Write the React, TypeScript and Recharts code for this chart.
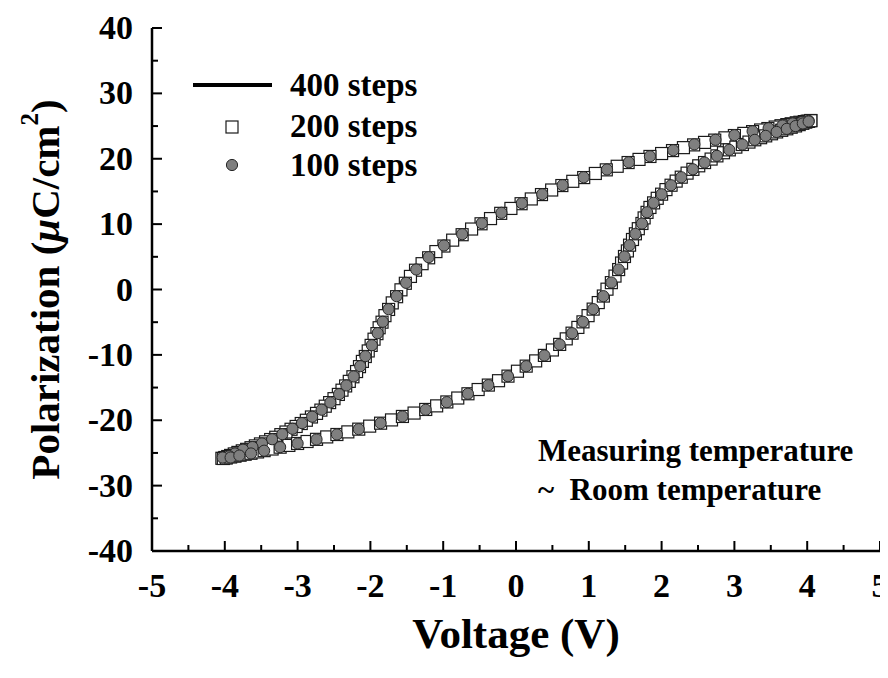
import React from 'react';
import { ComposedChart, Scatter, XAxis, YAxis, Legend, Label } from 'recharts';

const FONT = '"Liberation Serif", "Times New Roman", Times, serif';

// Tick positions
const xTicks = [-5, -4.5, -4, -3.5, -3, -2.5, -2, -1.5, -1, -0.5, 0, 0.5, 1, 1.5, 2, 2.5, 3, 3.5, 4, 4.5, 5];
const yTicks = [-40, -35, -30, -25, -20, -15, -10, -5, 0, 5, 10, 15, 20, 25, 30, 35, 40];
const xLabelTicks = [-5, -4, -3, -2, -1, 0, 1, 2, 3, 4, 5];
const yLabelTicks = [-40, -30, -20, -10, 0, 10, 20, 30, 40];

const seriesNames = ['400 steps', '200 steps', '100 steps'];
const xTitle = 'Voltage (V)';
const noteLines = ['Measuring temperature', '~  Room temperature'];

// 400 steps: continuous loop (voltage V, polarization µC/cm²)
const steps400: [number, number][] = [
  [4.06, 25.9], [3.8, 25.4], [3.5, 24.72], [3.0, 23.58], [2.5, 22.28], [2.0, 20.8], [1.5, 19.3], [1.0, 17.45],
  [0.5, 15.3], [0.0, 12.8], [-0.5, 9.95], [-1.0, 6.6], [-1.3, 3.8], [-1.5, 1.15], [-1.65, -1.3], [-1.8, -4.1],
  [-1.95, -7.6], [-2.1, -10.8], [-2.3, -14.4], [-2.5, -16.7], [-2.75, -19.0], [-3.0, -20.8], [-3.25, -22.3],
  [-3.5, -23.6], [-3.75, -24.65], [-3.95, -25.5], [-4.06, -25.9],
  [-3.9, -25.62], [-3.7, -25.18], [-3.5, -24.74], [-3.0, -23.55], [-2.5, -22.3], [-2.0, -20.88], [-1.5, -19.22],
  [-1.0, -17.42], [-0.5, -15.2], [0.0, -12.6], [0.5, -9.25], [0.8, -6.35], [1.0, -3.85], [1.2, -1.0], [1.35, 1.85],
  [1.5, 5.3], [1.65, 8.7], [1.8, 11.8], [2.0, 14.58], [2.25, 17.0], [2.5, 18.85], [2.75, 20.4], [3.0, 21.7],
  [3.25, 22.75], [3.5, 23.78], [3.75, 24.72], [3.95, 25.5], [4.06, 25.9],
];

// 200 steps: open squares
const steps200: [number, number][] = [
  [4.05, 25.85], [4.0, 25.75], [3.96, 25.68], [3.9, 25.58], [3.85, 25.5], [3.78, 25.35], [3.72, 25.22], [3.64, 25.05],
  [3.56, 24.85], [3.46, 24.62], [3.36, 24.4], [3.25, 24.15], [3.13, 23.88], [3.0, 23.55], [2.87, 23.2], [2.73, 22.85],
  [2.59, 22.5], [2.44, 22.12], [2.3, 21.7], [2.15, 21.25], [2.0, 20.8], [1.84, 20.35], [1.69, 19.9], [1.54, 19.42],
  [1.39, 18.85], [1.24, 18.3], [1.09, 17.75], [0.93, 17.12], [0.78, 16.55], [0.63, 15.9], [0.49, 15.22], [0.35, 14.52],
  [0.21, 13.85], [0.07, 13.12], [-0.07, 12.4], [-0.21, 11.65], [-0.35, 10.85], [-0.48, 10.05], [-0.61, 9.25], [-0.74, 8.38],
  [-0.87, 7.55], [-0.99, 6.65], [-1.1, 5.8], [-1.2, 4.85], [-1.29, 3.95], [-1.38, 2.95], [-1.45, 2.0], [-1.52, 0.95],
  [-1.58, -0.05], [-1.64, -1.1], [-1.7, -2.05], [-1.75, -3.05], [-1.8, -4.0], [-1.84, -5.0], [-1.88, -5.85], [-1.91, -6.75],
  [-1.95, -7.6], [-1.99, -8.55], [-2.03, -9.4], [-2.07, -10.25], [-2.11, -11.0], [-2.15, -11.8], [-2.19, -12.55], [-2.24, -13.35],
  [-2.29, -14.05], [-2.34, -14.75], [-2.39, -15.4], [-2.44, -16.05], [-2.5, -16.7], [-2.56, -17.3], [-2.62, -17.85], [-2.68, -18.45],
  [-2.74, -18.95], [-2.81, -19.5], [-2.88, -20.0], [-2.95, -20.5], [-3.02, -20.95], [-3.09, -21.38], [-3.16, -21.8], [-3.23, -22.2],
  [-3.3, -22.6], [-3.37, -22.95], [-3.44, -23.3], [-3.51, -23.62], [-3.58, -23.92], [-3.64, -24.2], [-3.7, -24.45], [-3.76, -24.68],
  [-3.82, -24.92], [-3.87, -25.15], [-3.92, -25.38], [-3.96, -25.55], [-4.0, -25.7], [-4.04, -25.82],
  [-4.02, -25.85], [-3.98, -25.78], [-3.92, -25.62], [-3.86, -25.5], [-3.79, -25.35], [-3.72, -25.2], [-3.64, -25.05], [-3.55, -24.85],
  [-3.46, -24.65], [-3.35, -24.4], [-3.24, -24.12], [-3.12, -23.85], [-3.0, -23.55], [-2.87, -23.25], [-2.74, -22.92], [-2.6, -22.55],
  [-2.46, -22.18], [-2.31, -21.78], [-2.16, -21.36], [-2.01, -20.9], [-1.86, -20.45], [-1.71, -19.95], [-1.56, -19.42], [-1.4, -18.9],
  [-1.24, -18.35], [-1.09, -17.8], [-0.95, -17.2], [-0.8, -16.6], [-0.66, -15.95], [-0.52, -15.3], [-0.38, -14.62], [-0.24, -13.95],
  [-0.11, -13.25], [0.02, -12.5], [0.14, -11.72], [0.27, -10.92], [0.39, -10.08], [0.5, -9.25], [0.6, -8.4], [0.69, -7.55],
  [0.77, -6.68], [0.85, -5.8], [0.92, -4.95], [0.99, -4.0], [1.06, -3.0], [1.13, -2.0], [1.2, -1.0], [1.25, 0.05],
  [1.31, 1.05], [1.36, 2.05], [1.41, 3.05], [1.45, 4.05], [1.49, 5.05], [1.53, 5.9], [1.56, 6.78], [1.6, 7.65],
  [1.64, 8.52], [1.68, 9.3], [1.73, 10.1], [1.76, 10.95], [1.8, 11.8], [1.84, 12.55], [1.89, 13.25], [1.94, 13.95],
  [2.0, 14.58], [2.06, 15.28], [2.13, 15.95], [2.2, 16.58], [2.27, 17.18], [2.35, 17.8], [2.43, 18.38], [2.51, 18.92],
  [2.59, 19.42], [2.68, 19.95], [2.76, 20.44], [2.85, 20.92], [2.93, 21.36], [3.02, 21.78], [3.11, 22.18], [3.2, 22.55],
  [3.28, 22.9], [3.36, 23.22], [3.43, 23.5], [3.51, 23.82], [3.58, 24.1], [3.65, 24.35], [3.72, 24.58], [3.78, 24.82],
  [3.84, 25.02], [3.89, 25.22], [3.94, 25.42], [3.98, 25.6], [4.02, 25.72], [4.05, 25.82],
];

// 100 steps: grey filled circles
const steps100: [number, number][] = [
  [4.02, 25.8], [3.93, 25.64], [3.8, 25.4], [3.66, 25.08], [3.47, 24.66], [3.25, 24.2], [3.0, 23.6], [2.74, 22.9],
  [2.45, 22.2], [2.16, 21.3], [1.84, 20.38], [1.55, 19.46], [1.25, 18.35], [0.93, 17.17], [0.64, 15.95], [0.36, 14.57],
  [0.08, 13.2], [-0.2, 11.73], [-0.47, 10.14], [-0.74, 8.46], [-0.99, 6.73], [-1.2, 4.94], [-1.37, 3.06], [-1.51, 1.02],
  [-1.64, -1.02], [-1.75, -3.01], [-1.83, -4.94], [-1.9, -6.68], [-1.98, -8.52], [-2.07, -10.2], [-2.14, -11.73], [-2.23, -13.3],
  [-2.33, -14.68], [-2.43, -16.0], [-2.55, -17.28], [-2.67, -18.39], [-2.8, -19.46], [-2.94, -20.44], [-3.07, -21.3], [-3.21, -22.13],
  [-3.35, -22.9], [-3.49, -23.55], [-3.62, -24.1], [-3.75, -24.5], [-3.86, -25.08], [-3.94, -25.5], [-4.03, -25.7],
  [-3.92, -25.7], [-3.8, -25.4], [-3.64, -25.08], [-3.46, -24.66], [-3.24, -24.11], [-3.0, -23.55], [-2.74, -22.94], [-2.46, -22.17],
  [-2.16, -21.36], [-1.86, -20.44], [-1.56, -19.42], [-1.24, -18.39], [-0.95, -17.23], [-0.66, -15.95], [-0.38, -14.63], [-0.11, -13.26],
  [0.14, -11.73], [0.39, -10.09], [0.6, -8.41], [0.77, -6.68], [0.92, -4.94], [1.06, -3.0], [1.2, -1.02], [1.31, 1.07],
  [1.41, 3.06], [1.49, 5.05], [1.56, 6.77], [1.64, 8.52], [1.73, 10.09], [1.8, 11.82], [1.89, 13.26], [2.0, 14.57],
  [2.13, 15.95], [2.27, 17.17], [2.43, 18.39], [2.59, 19.42], [2.76, 20.44], [2.93, 21.36], [3.11, 22.17], [3.28, 22.89],
  [3.43, 23.5], [3.58, 24.1], [3.72, 24.57], [3.84, 25.0], [3.94, 25.4], [4.02, 25.7],
];

const toRows = (pts: [number, number][]) => pts.map(([v, p]) => ({ v, p }));
const data400 = toRows(steps400);
const data200 = toRows(steps200);
const data100 = toRows(steps100);

const W = 880;
const H = 662;
const TICK_FS = 34;
const XTITLE_FS = 43;
const YTITLE_FS = 41;
const LEGEND_FS = 33;
const NOTE_FS = 31;

const txt = { fontFamily: FONT, fontWeight: 700, fill: '#000' } as const;

const BottomTick = (props: any) => {
  const { x, y, payload } = props;
  const v = payload.value;
  const major = xLabelTicks.includes(v);
  return (
    <g>
      <line x1={x} x2={x} y1={y} y2={y - (major ? 10 : 6)} stroke="#000" strokeWidth={2} />
      {major && (
        <text x={x} y={y + 46} textAnchor="middle" fontSize={TICK_FS} style={txt}>
          {String(v)}
        </text>
      )}
    </g>
  );
};

const TopTick = (props: any) => {
  const { x, y, payload } = props;
  const major = xLabelTicks.includes(payload.value);
  return <line x1={x} x2={x} y1={y} y2={y + (major ? 10 : 6)} stroke="#000" strokeWidth={2} />;
};

const LeftTick = (props: any) => {
  const { x, y, payload } = props;
  const v = payload.value;
  const major = yLabelTicks.includes(v);
  return (
    <g>
      <line x1={x} x2={x + (major ? 10 : 6)} y1={y} y2={y} stroke="#000" strokeWidth={2} />
      {major && (
        <text x={x - 19} y={y + 11} textAnchor="end" fontSize={TICK_FS} style={txt}>
          {String(v)}
        </text>
      )}
    </g>
  );
};

const RightTick = (props: any) => {
  const { x, y, payload } = props;
  const major = yLabelTicks.includes(payload.value);
  return <line x1={x} x2={x - (major ? 10 : 6)} y1={y} y2={y} stroke="#000" strokeWidth={2} />;
};

const SquareShape = (props: any) => {
  const { cx, cy } = props;
  if (cx == null || cy == null) return <g />;
  return <rect x={cx - 6} y={cy - 6} width={12} height={12} fill="#fff" stroke="#1a1a1a" strokeWidth={1.2} />;
};

const CircleShape = (props: any) => {
  const { cx, cy } = props;
  if (cx == null || cy == null) return <g />;
  return <circle cx={cx} cy={cy} r={5.6} fill="#7f7f7f" stroke="#262626" strokeWidth={1} />;
};

const NoShape = () => <g />;

const XTitle = (props: any) => {
  const vb = props.viewBox || { x: 144, y: 543, width: 728 };
  return (
    <text x={vb.x + vb.width / 2} y={vb.y + 97} textAnchor="middle" fontSize={XTITLE_FS} style={txt}>
      {xTitle}
    </text>
  );
};

const YTitle = (props: any) => {
  const vb = props.viewBox || { x: 0, y: 20, height: 523 };
  const cx = 37;
  const cy = vb.y + vb.height / 2;
  return (
    <text
      x={cx}
      y={cy}
      transform={`rotate(-90, ${cx}, ${cy})`}
      textAnchor="middle"
      dominantBaseline="central"
      fontSize={YTITLE_FS}
      style={txt}
    >
      Polarization (<tspan fontStyle="italic">μ</tspan>C/cm
      <tspan dy={-16} fontSize={25}>2</tspan>
      <tspan dy={16}>)</tspan>
    </text>
  );
};

const LegendContent = () => (
  <svg width={W} height={H} style={{ position: 'absolute', left: 0, top: 0, overflow: 'visible' }}>
    <line x1={185} x2={264} y1={77} y2={77} stroke="#000" strokeWidth={4} />
    <text x={282} y={88} fontSize={LEGEND_FS} style={txt}>{seriesNames[0]}</text>
    <rect x={218} y={113} width={12} height={12} fill="#fff" stroke="#1a1a1a" strokeWidth={1.2} />
    <text x={282} y={129} fontSize={LEGEND_FS} style={txt}>{seriesNames[1]}</text>
    <circle cx={224} cy={157} r={5.6} fill="#7f7f7f" stroke="#262626" strokeWidth={1} />
    <text x={282} y={168} fontSize={LEGEND_FS} style={txt}>{seriesNames[2]}</text>
  </svg>
);

export default function App() {
  return (
    <div style={{ position: 'relative', width: W, height: H }}>
      <ComposedChart width={W} height={H} margin={{ top: 20, right: 8, bottom: 0, left: 0 }} style={{ overflow: 'visible' }}>
        <XAxis
          xAxisId="b"
          dataKey="v"
          type="number"
          orientation="bottom"
          domain={[-5, 5]}
          ticks={xTicks}
          interval={0}
          height={119}
          tickSize={0}
          tickMargin={0}
          tickLine={false}
          tick={<BottomTick />}
          axisLine={{ stroke: '#000', strokeWidth: 2.5 }}
          allowDataOverflow
        >
          <Label content={<XTitle />} />
        </XAxis>
        <XAxis
          xAxisId="t"
          dataKey="v"
          type="number"
          orientation="top"
          domain={[-5, 5]}
          ticks={xTicks}
          interval={0}
          height={0}
          tickSize={0}
          tickMargin={0}
          tickLine={false}
          tick={<TopTick />}
          axisLine={{ stroke: '#000', strokeWidth: 2.5 }}
          allowDataOverflow
        />
        <YAxis
          yAxisId="l"
          dataKey="p"
          type="number"
          orientation="left"
          domain={[-40, 40]}
          ticks={yTicks}
          interval={0}
          width={144}
          tickSize={0}
          tickMargin={0}
          tickLine={false}
          tick={<LeftTick />}
          axisLine={{ stroke: '#000', strokeWidth: 2.5 }}
          allowDataOverflow
        >
          <Label content={<YTitle />} />
        </YAxis>
        <YAxis
          yAxisId="r"
          dataKey="p"
          type="number"
          orientation="right"
          domain={[-40, 40]}
          ticks={yTicks}
          interval={0}
          width={0}
          tickSize={0}
          tickMargin={0}
          tickLine={false}
          tick={<RightTick />}
          axisLine={{ stroke: '#000', strokeWidth: 2.5 }}
          allowDataOverflow
        />
        <Legend
          layout="vertical"
          align="center"
          verticalAlign="middle"
          content={<LegendContent />}
          wrapperStyle={{ position: 'absolute', left: 0, top: 0, width: W, height: H, pointerEvents: 'none' }}
        />
        <Scatter
          name={seriesNames[0]}
          data={data400}
          dataKey="p"
          xAxisId="b"
          yAxisId="l"
          line={{ stroke: '#000', strokeWidth: 2.5 }}
          lineType="joint"
          shape={<NoShape />}
          isAnimationActive={false}
        />
        <Scatter
          name={seriesNames[1]}
          data={data200}
          dataKey="p"
          xAxisId="b"
          yAxisId="l"
          shape={<SquareShape />}
          isAnimationActive={false}
        />
        <Scatter
          name={seriesNames[2]}
          data={data100}
          dataKey="p"
          xAxisId="b"
          yAxisId="l"
          shape={<CircleShape />}
          isAnimationActive={false}
        />
      </ComposedChart>
      <svg width={W} height={H} style={{ position: 'absolute', left: 0, top: 0, pointerEvents: 'none' }}>
        <text x={530} y={453} fontSize={NOTE_FS} style={txt}>{noteLines[0]}</text>
        <text x={530} y={492} fontSize={NOTE_FS} style={txt} xmlSpace="preserve">{noteLines[1]}</text>
      </svg>
    </div>
  );
}
